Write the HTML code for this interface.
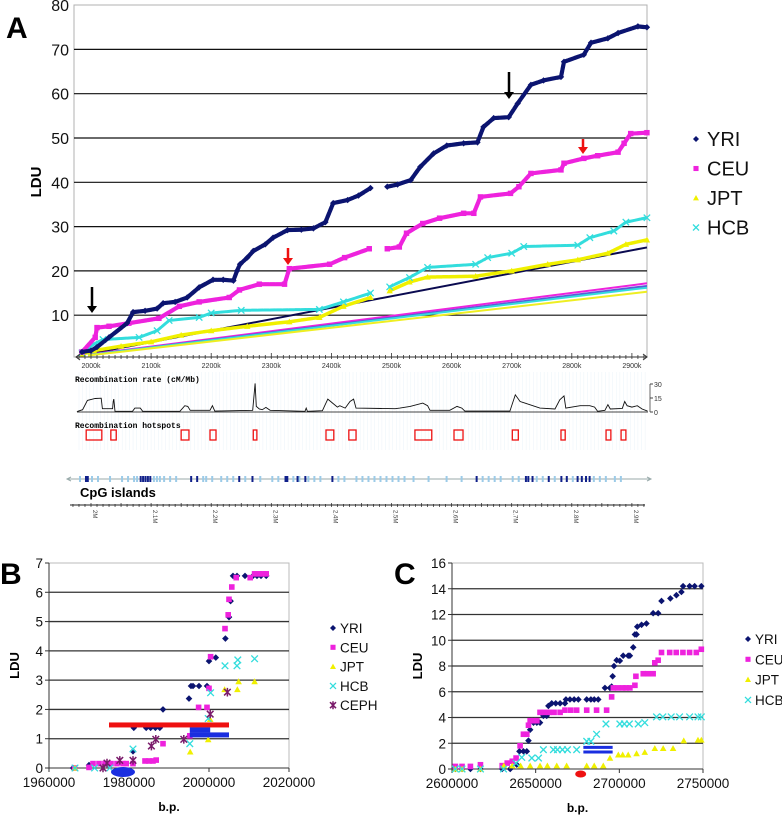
<!DOCTYPE html>
<html><head><meta charset="utf-8"><style>
html,body{margin:0;padding:0;background:#fff}
svg{display:block;font-family:"Liberation Sans",Arial,sans-serif}
.mono{font-family:"Liberation Mono","DejaVu Sans Mono",monospace}
</style></head><body>
<svg id="fig" width="782" height="816" viewBox="0 0 782 816" xmlns="http://www.w3.org/2000/svg">
<rect width="782" height="816" fill="#fff"/>
<g id="gA"></g>
<g id="gR"></g>
<g id="gB"></g>
<g id="gC"></g>
</svg>
<script>
// ---------- Panel A data (kb, LDU) ----------
const aYriX=[1985,2000,2010,2030,2060,2070,2090,2110,2120,2140,2160,2180,2203,2220,2237,2243,2248,2260,2270,2290,2303,2327,2350,2370,2390,2403,2427,2445,2465,null,2493,2510,2532,2548,2570,2592,2620,2643,2653,2670,2695,2710,2732,2753,2782,2787,2820,2832,2860,2877,2910,2925];
const aYriY=[1.7,2,2.8,5,8.2,10.7,11,11.5,12.7,13,14,16.3,18,18,17.8,20,21.5,23,24.5,26,27.5,29.2,29.3,29.6,31,35.3,36,37,38.7,null,39,39.5,40.5,43.5,46.5,48.3,48.8,49,52.5,54.5,54.7,57.8,62,63,63.8,67.2,68.8,71.5,72.5,73.7,75.2,75];
const aCeuX=[1985,2007,2010,2030,2063,2113,2147,2180,2230,2247,2280,2322,2330,2397,2422,2463,null,2493,2513,2525,2552,2580,2620,2637,2648,2698,2712,2732,2782,2787,2820,2843,2877,2887,2898,2925];
const aCeuY=[1.7,5,7.2,7.5,8.2,9.3,12,13,14,15.7,17,17,20.5,21.5,23,25,null,25,25.4,28.5,30.7,31.9,33,33,36.7,37.5,39,42,42.8,44.3,45.4,46,46.8,48.8,51,51.2];
const aHcbX=[1985,2005,2020,2080,2110,2130,2180,2200,2250,2380,2420,2465,null,2497,2530,2560,2640,2660,2700,2720,2810,2830,2870,2890,2925];
const aHcbY=[1.5,3.5,4.5,5,6.5,8.8,9.5,10.5,11.1,11.3,13,15,null,16.4,18.5,20.8,21.5,23,24,25.5,25.8,27.5,29,31,32];
const aJptX=[1985,2005,2050,2100,2150,2200,2260,2330,2380,2420,2465,null,2497,2530,2560,2640,2700,2760,2810,2860,2890,2925];
const aJptY=[1.2,2,3,4,5.5,6.5,7.5,8.5,9.5,12,14,null,15.5,17.5,18.6,18.8,20,21.5,22.5,24,26,27];
const aRegNames=['black','magenta','blue','cyan','yellow'];
const aRegStart=[1.2,1.1,1.0,1.0,0.9];
const aRegEnd=[25.3,17.2,16.6,16.2,15.3];
const aYTicks=[10,20,30,40,50,60,70,80];
const aXTicks=[2000,2100,2200,2300,2400,2500,2600,2700,2800,2900];
// recombination rate (kb, cM/Mb)
const rateX=[1978,1986,1994,2007,2017,2019,2036,2037,2038,2040,2069,2073,2082,2086,2148,2156,2161,2165,2198,2202,2206,2269,2273,2275,2280,2285,2291,2298,2356,2358,2360,2385,2394,2402,2410,2414,2423,2431,2437,2441,2506,2514,2531,2552,2560,2564,2597,2609,2617,2622,2697,2706,2714,2722,2747,2772,2780,2787,2790,2814,2830,2838,2843,2855,2860,2864,2884,2888,2892,2900,2909,2917,2926];
const rateY=[0.7,2.5,12.4,14.5,14.8,3.5,3.5,11.3,13.8,0.7,0.7,4.2,4.2,0.7,0.7,6.7,6,1.8,1.8,6.7,1,1.8,30.7,6,3.2,2.5,4.9,1.8,0.7,4.2,0.7,1.4,13.8,9.5,5.3,6.7,4.2,11.3,13.8,4.2,3.5,4.2,6,9.5,6.7,1.8,1.8,6,4.2,1,1,18.4,11.3,9.5,4.2,3.2,13.1,17.3,4.2,6.7,6.7,5.3,0.7,1.8,7.8,3.2,3.9,11.3,6.7,5.3,6.7,3.2,1];
const hotStart=[1992,2033,2150,2198,2270,2391,2429,2539,2604,2701,2782,2857,2882];
const hotEnd=[2018,2042,2163,2208,2276,2404,2441,2567,2619,2711,2789,2865,2890];
const cpgDark=[1990,1993,2081,2085,2089,2093,2097,2165,2175,2245,2267,2322,2325,2342,2355,2400,2640,2722,2726,2733,2760,2781,2790,2808,2815,2822,2828];
const cpgLight=[1980,2000,2010,2030,2050,2060,2070,2075,2103,2108,2113,2120,2130,2140,2185,2190,2200,2215,2225,2235,2255,2280,2300,2310,2335,2345,2360,2370,2380,2410,2420,2440,2450,2460,2470,2480,2490,2500,2510,2520,2535,2560,2590,2615,2650,2660,2670,2680,2700,2710,2740,2750,2770,2800,2835,2845,2855,2870,2880];
const rulerLabels=['2M','2.1M','2.2M','2.3M','2.4M','2.5M','2.6M','2.7M','2.8M','2.9M'];
// ---------- Panel B data ----------
const bYriX=[1966000,1970000,1981000,1981200,1984300,1985400,1986600,1987700,1988500,1995000,1995500,1996000,1997500,1999500,2000000,2001700,2004100,2005000,2005400,2006000,2007000,2009000,2011000,2012000,2013000,2014300];
const bYriY=[0,0.1,0.57,1.37,1.37,1.37,1.37,1.37,2.0,2.37,2.8,2.8,2.8,2.8,3.65,3.77,4.42,5.15,5.7,6.56,6.56,6.56,6.56,6.56,6.56,6.56];
const bCeuX=[1966400,1970000,1971000,1972500,1974000,1975500,1977000,1978500,1979300,1981000,1984000,1985000,1986000,1986800,1988500,1995200,1997400,1999500,2000000,2000400,2004000,2004800,2005000,2005700,2006800,2010300,2011400,2012600,2013500,2014300];
const bCeuY=[0,0.02,0.15,0.15,0.15,0.15,0.15,0.15,0.15,0.15,0.24,0.24,0.24,0.27,0.83,1.1,2.07,2.07,2.72,3.8,4.76,5.23,5.76,6.18,6.5,6.5,6.63,6.63,6.63,6.63];
const bJptX=[1966500,1995300,1999800,2000300,2003900,2007100,2007400,2011400];
const bJptY=[0,0.55,0.97,1.66,2.68,2.68,2.95,2.95];
const bHcbX=[1966500,1971400,1975200,1981000,1995200,1999800,2000400,2004000,2007000,2007200,2011400];
const bHcbY=[0,0,0,0.65,0.83,1.69,2.57,3.49,3.49,3.69,3.73];
const bCephX=[1973500,1974500,1977700,1981000,1985600,1986700,1993700,2000300,2004600];
const bCephY=[0,0.17,0.26,0.26,0.75,0.98,0.98,1.84,2.59];
const bBarStart=[1975000,1995200,1995200];
const bBarEnd=[2005000,2000300,2005000];
const bBarY=[1.47,1.3,1.13];
const bBarColor=['#ee1111','#1a2ee0','#1a2ee0'];
const bXTicks=[1960000,1980000,2000000,2020000];
const bYTicks=[0,1,2,3,4,5,6,7];
// ---------- Panel C data ----------
const cYriX=[2602000,2606000,2611000,2617000,2630000,2634800,2638700,2640300,2642700,2644700,2645700,2646700,2648700,2650700,2652600,2654600,2656600,2657600,2659600,2662000,2664600,2667500,2668100,2670500,2673000,2675500,2680500,2683000,2685000,2687400,2691400,2694400,2695400,2696000,2696800,2698400,2700300,2702300,2705300,2706300,2708300,2709300,2710300,2710700,2713300,2716200,2720200,2723200,2725200,2730500,2734100,2737100,2738100,2742000,2745000,2749000];
const cYriY=[0,0,0,0,0,0,0.34,1.37,1.37,1.37,2.2,3.05,3.6,3.6,3.6,4.13,4.13,4.9,5.1,5.1,5.1,5.1,5.4,5.4,5.4,5.4,5.4,5.4,5.4,5.4,6.3,6.3,6.4,7.2,8.0,8.45,8.4,8.8,8.8,8.8,9.45,10.45,10.45,11.05,11.2,11.3,12.1,12.1,13.05,13.25,13.5,13.75,14.2,14.2,14.2,14.2];
const cCeuX=[2602000,2606000,2611000,2617000,2630000,2633000,2636000,2638300,2640700,2642700,2644700,2645700,2646700,2648700,2650700,2652600,2655000,2658000,2661000,2664600,2667500,2671000,2674500,2680500,2686400,2692400,2695400,2696400,2699000,2702000,2704000,2706300,2709300,2709900,2714300,2717000,2720200,2721200,2723200,2725200,2730100,2734000,2738000,2742000,2746000,2749000];
const cCeuY=[0.2,0.2,0.2,0.33,0.26,0.46,0.6,0.85,1.8,2.7,2.7,3.4,3.75,3.75,3.75,4.4,4.4,4.4,4.4,4.4,4.57,4.57,4.57,4.57,4.57,4.57,5.6,6.3,6.3,6.3,6.3,6.3,6.5,7.2,7.4,7.4,7.4,8.25,8.45,9.05,9.05,9.05,9.05,9.05,9.05,9.3];
const cJptX=[2602000,2606000,2617000,2631000,2636000,2641000,2646700,2652600,2657000,2662600,2668500,2680500,2685000,2690400,2694400,2699400,2702000,2705300,2710300,2715200,2721200,2726200,2732100,2738500,2747000,2749000];
const cJptY=[0,0,0,0.25,0.25,0.25,0.25,0.25,0.25,0.25,0.25,0.25,0.25,0.25,0.85,1.1,1.1,1.1,1.2,1.3,1.6,1.6,1.6,2.2,2.25,2.25];
const cHcbX=[2602000,2606000,2617000,2630800,2638300,2641700,2647700,2651700,2654600,2660600,2663000,2666000,2669000,2674500,2680500,2683000,2686400,2692000,2700300,2703000,2706000,2711300,2715200,2722200,2726000,2731000,2736000,2742000,2747000,2749000];
const cHcbY=[0,0,0,0,0.45,0.9,0.85,0.85,1.5,1.5,1.5,1.5,1.5,1.5,2.15,2.15,2.7,3.5,3.5,3.5,3.5,3.5,3.6,4.05,4.05,4.05,4.05,4.05,4.05,4.05];
const cBarStart=[2678500,2678500];
const cBarEnd=[2696000,2696000];
const cBarY=[1.68,1.32];
const cXTicks=[2600000,2650000,2700000,2750000];
const cYTicks=[0,2,4,6,8,10,12,14,16];

const NS='http://www.w3.org/2000/svg';
function mk(parent,tag,attrs,text){const e=document.createElementNS(NS,tag);for(const k in attrs)e.setAttribute(k,attrs[k]);if(text!==undefined)e.textContent=text;parent.appendChild(e);return e;}
function marker(g,type,x,y,s,c){
  let e;
  if(type==='diamond')e=mk(g,'polygon',{points:`${x},${y-s} ${x+s},${y} ${x},${y+s} ${x-s},${y}`,fill:c});
  else if(type==='square')e=mk(g,'rect',{x:x-s*0.85,y:y-s*0.85,width:s*1.7,height:s*1.7,fill:c});
  else if(type==='tri')e=mk(g,'polygon',{points:`${x},${y-s} ${x+s},${y+s*0.8} ${x-s},${y+s*0.8}`,fill:c});
  else if(type==='cross')e=mk(g,'path',{d:`M${x-s} ${y-s}L${x+s} ${y+s}M${x-s} ${y+s}L${x+s} ${y-s}`,stroke:c,'stroke-width':1.3,fill:'none'});
  else e=mk(g,'path',{d:`M${x-s} ${y-s}L${x+s} ${y+s}M${x-s} ${y+s}L${x+s} ${y-s}M${x} ${y-s-1}L${x} ${y+s+1}`,stroke:c,'stroke-width':1.5,fill:'none'});
  return e;
}

// ================= PANEL A =================
const gA=document.getElementById('gA');
const xA=kb=>91+(kb-2000)*0.601;
const yA=v=>359.5-v*4.43;
{
  let t=mk(gA,'text',{x:6,y:38,'font-size':30,'font-weight':'bold'},'A');
  
  
  mk(gA,'rect',{x:74,y:5,width:573,height:352,fill:'none',stroke:'#b0b0b0','stroke-width':1});
  aYTicks.forEach(v=>{
    if(v<80){const l=mk(gA,'line',{x1:74,x2:647,y1:yA(v),y2:yA(v),stroke:'#111','stroke-width':1.2});
    
    }
    const tt=mk(gA,'text',{x:69,y:yA(v)+6,'text-anchor':'end','font-size':16,fill:'#111'},String(v));
    
    
  });
  const yt=mk(gA,'text',{x:0,y:0,transform:'translate(41,182) rotate(-90)','text-anchor':'middle','font-size':15,'font-weight':'bold'},'LDU');
  
  
  const regCols=['#0a0a50','#ee22dd','#5a5ad8','#33dddd','#eeee22'];
  aRegNames.forEach((n,i)=>{
    const l=mk(gA,'line',{x1:xA(1995),y1:yA(aRegStart[i]),x2:xA(2925),y2:yA(aRegEnd[i]),stroke:regCols[i],'stroke-width':2});
    
    
  });
  function series(xs,ys,col,type,name,w){
    const g=mk(gA,'g',{});
    
    
    let d='';let pen=false;
    xs.forEach((x,i)=>{ if(x===null){pen=false;return;} d+=(pen?'L':'M')+xA(x).toFixed(1)+' '+yA(ys[i]).toFixed(1); pen=true; });
    mk(g,'path',{d:d,stroke:col,'stroke-width':w,fill:'none','stroke-linejoin':'round','stroke-linecap':'round','stroke-dasharray':'5 1.2'});
    xs.forEach((x,i)=>{ if(x===null)return; marker(g,type,xA(x),yA(ys[i]),3.2,col); });
  }
  series(aJptX,aJptY,'#f0f000','tri','jpt',3.5);
  series(aHcbX,aHcbY,'#33dddd','cross',"hcb",3);
  series(aCeuX,aCeuY,'#ee22dd','square','ceu',4.2);
  series(aYriX,aYriY,'#0b1470','diamond','yri',4.2);
  function arrow(x,y1,y2,col,name){const g=mk(gA,'g',{});
    
    
    mk(g,'line',{x1:x,y1:y1,x2:x,y2:y2-5,stroke:col,'stroke-width':2.5});
    mk(g,'polygon',{points:`${x-5},${y2-7} ${x+5},${y2-7} ${x},${y2}`,fill:col});}
  arrow(92,287,313,'#000','arrow-black-1');
  arrow(509,72,99,'#000','arrow-black-2');
  arrow(288,248,265,'#ee1111','arrow-red-1');
  arrow(583,139,154,'#ee1111','arrow-red-2');
  const leg=[['YRI','#0b1470','diamond'],['CEU','#ee22dd','square'],['JPT','#f0f000','tri'],['HCB','#33dddd','cross']];
  leg.forEach((L,i)=>{const g=mk(gA,'g',{});
    
    
    const y=139+i*29.5;
    marker(g,L[2],696,y,3,L[1]);
    mk(g,'text',{x:707,y:y+7,'font-size':20,fill:'#111'},L[0]);});
  mk(gA,'line',{x1:76,x2:647,y1:357,y2:357,stroke:'#333','stroke-width':1});
  mk(gA,'path',{d:'M80 354L76 357L80 360M643 354L647 357L643 360',stroke:'#333',fill:'none'});
  for(let k=1980;k<=2920;k+=10){mk(gA,'line',{x1:xA(k),x2:xA(k),y1:k%100===0?353:355,y2:359,stroke:'#333','stroke-width':0.8});}
  aXTicks.forEach(k=>{const t=mk(gA,'text',{x:xA(k),y:368,'text-anchor':'middle','font-size':7,fill:'#333'},k+'k');
    
    });
}

// ================= RECOMBINATION TRACKS =================
const gR=document.getElementById('gR');
{
  for(let k=1980;k<=2925;k+=6){mk(gR,'line',{x1:xA(k),x2:xA(k),y1:372,y2:450,stroke:'#eef5fa','stroke-width':0.6});}
  let t=mk(gR,'text',{x:75,y:382,'font-size':8,'font-weight':'bold',class:'mono'},'Recombination rate (cM/Mb)');
  
  
  const yR=v=>412-v*0.933;
  mk(gR,'line',{x1:77,x2:648,y1:412,y2:412,stroke:'#444','stroke-width':1});
  mk(gR,'line',{x1:650,x2:650,y1:384,y2:412,stroke:'#444','stroke-width':0.8});
  [[30,'30'],[15,'15'],[0,'0']].forEach(p=>{mk(gR,'line',{x1:650,x2:653,y1:yR(p[0]),y2:yR(p[0]),stroke:'#444'});mk(gR,'text',{x:654,y:yR(p[0])+3,'font-size':7,fill:'#333'},p[1]);});
  let d='M77 412';rateX.forEach((k,i)=>{d+='L'+xA(k).toFixed(1)+' '+yR(rateY[i]).toFixed(1);});
  const rp=mk(gR,'path',{d:d,stroke:'#111','stroke-width':0.9,fill:'none'});
  
  
  t=mk(gR,'text',{x:75,y:428,'font-size':8,'font-weight':'bold',class:'mono'},'Recombination hotspots');
  
  
  hotStart.forEach((s,i)=>{const r=mk(gR,'rect',{x:xA(s),y:430,width:xA(hotEnd[i])-xA(s),height:10,fill:'none',stroke:'#ee1111','stroke-width':1.3});
    
    });
  mk(gR,'line',{x1:68,x2:650,y1:479,y2:479,stroke:'#9aa','stroke-width':1});
  mk(gR,'path',{d:'M71 477L67 479L71 481M647 477L651 479L647 481',stroke:'#9aa',fill:'none'});
  cpgLight.forEach(k=>{mk(gR,'rect',{x:xA(k),y:476,width:2,height:6,fill:'#9ccbe8'});});
  cpgDark.forEach(k=>{mk(gR,'rect',{x:xA(k),y:476,width:2,height:6,fill:'#10208a'});});
  t=mk(gR,'text',{x:80,y:497,'font-size':13,'font-weight':'bold'},'CpG islands');
  
  
  mk(gR,'line',{x1:70,x2:645,y1:505,y2:505,stroke:'#222','stroke-width':1});
  for(let k=1970;k<=2920;k+=10){mk(gR,'line',{x1:xA(k),x2:xA(k),y1:k%50===0?503:504,y2:507,stroke:'#222','stroke-width':0.7});}
  rulerLabels.forEach((l,i)=>{const x=xA(2000+i*100)+2;mk(gR,'text',{x:0,y:0,transform:`translate(${x},510) rotate(90)`,'font-size':6,fill:'#444'},l);});
}

// ================= generic small chart =================
function smallChart(g,cfg){
  const xs=v=>cfg.x0+(v-cfg.xmin)/(cfg.xmax-cfg.xmin)*(cfg.x1-cfg.x0);
  const ys=v=>cfg.y0-(v-cfg.ymin)/(cfg.ymax-cfg.ymin)*(cfg.y0-cfg.y1);
  let t=mk(g,'text',{x:cfg.lx,y:cfg.ly,'font-size':30,'font-weight':'bold'},cfg.letter);
  
  
  mk(g,'rect',{x:cfg.x0,y:cfg.y1,width:cfg.x1-cfg.x0,height:cfg.y0-cfg.y1,fill:'none',stroke:'#bbb'});
  cfg.yTicks.forEach(v=>{
    if(v!==cfg.ymin&&v!==cfg.ymax){const l=mk(g,'line',{x1:cfg.x0,x2:cfg.x1,y1:ys(v),y2:ys(v),stroke:'#333','stroke-width':1.3});
      
      }
    mk(g,'line',{x1:cfg.x0-4,x2:cfg.x0,y1:ys(v),y2:ys(v),stroke:'#333'});
    const tt=mk(g,'text',{x:cfg.x0-6,y:ys(v)+5,'text-anchor':'end','font-size':13.5,fill:'#111'},String(v));
    
    
  });
  mk(g,'line',{x1:cfg.x0,x2:cfg.x0,y1:cfg.y1,y2:cfg.y0,stroke:'#333'});
  mk(g,'line',{x1:cfg.x0,x2:cfg.x1,y1:cfg.y0,y2:cfg.y0,stroke:'#333'});
  cfg.xTicks.forEach(v=>{mk(g,'line',{x1:xs(v),x2:xs(v),y1:cfg.y0,y2:cfg.y0+4,stroke:'#333'});
    const tt=mk(g,'text',{x:xs(v),y:cfg.y0+19,'text-anchor':'middle','font-size':13.5,fill:'#111'},String(v));
    
    });
  t=mk(g,'text',{x:(cfg.x0+cfg.x1)/2,y:cfg.y0+43,'text-anchor':'middle','font-size':12,'font-weight':'bold'},'b.p.');
  
  
  t=mk(g,'text',{x:0,y:0,transform:`translate(${cfg.x0-30},${(cfg.y0+cfg.y1)/2}) rotate(-90)`,'text-anchor':'middle','font-size':13,'font-weight':'bold'},'LDU');
  
  
  cfg.series.forEach(s=>{const sg=mk(g,'g',{});
    
    
    s.x.forEach((v,i)=>marker(sg,s.type,xs(v),ys(s.y[i]),3.3,s.col));});
  cfg.series.forEach((s,i)=>{const lg=mk(g,'g',{});
    
    
    const y=cfg.legY+i*cfg.legDy;
    marker(lg,s.type,cfg.legX,y,3,s.col);
    mk(lg,'text',{x:cfg.legX+7,y:y+5,'font-size':13.5,fill:'#111'},s.name);});
  if(cfg.after)cfg.after(xs,ys);
}

smallChart(document.getElementById('gB'),{letter:'B',lx:0,ly:584,x0:49,x1:289,y0:768,y1:563,xmin:1960000,xmax:2020000,ymin:0,ymax:7,
  xTicks:bXTicks,yTicks:bYTicks,legX:333,legY:628,legDy:19.3,
  after:(xs,ys)=>{
    const gB=document.getElementById('gB');
    bBarStart.forEach((s,i)=>{const r=mk(gB,'rect',{x:xs(s),y:ys(bBarY[i])-2.5,width:xs(bBarEnd[i])-xs(s),height:5,fill:bBarColor[i]});
      
      });
    const e=mk(gB,'ellipse',{cx:xs(1978500),cy:772,rx:12,ry:5,fill:'#1a2ee0'});
    
    
  },
  series:[{name:'YRI',x:bYriX,y:bYriY,col:'#0b1470',type:'diamond'},{name:'CEU',x:bCeuX,y:bCeuY,col:'#ee22dd',type:'square'},{name:'JPT',x:bJptX,y:bJptY,col:'#f0f000',type:'tri'},{name:'HCB',x:bHcbX,y:bHcbY,col:'#33dddd',type:'cross'},{name:'CEPH',x:bCephX,y:bCephY,col:'#7a1a6a',type:'star'}]});

smallChart(document.getElementById('gC'),{letter:'C',lx:394,ly:584,x0:452,x1:703,y0:769,y1:563,xmin:2600000,xmax:2750000,ymin:0,ymax:16,
  xTicks:cXTicks,yTicks:cYTicks,legX:748,legY:639,legDy:20.3,
  after:(xs,ys)=>{
    const gC=document.getElementById('gC');
    cBarStart.forEach((s,i)=>{const r=mk(gC,'rect',{x:xs(s),y:ys(cBarY[i])-1.5,width:xs(cBarEnd[i])-xs(s),height:3,fill:'#1a2ee0'});
      
      });
    const e=mk(gC,'ellipse',{cx:xs(2676900),cy:774,rx:5.5,ry:3.5,fill:'#ee1111'});
    
    
  },
  series:[{name:'YRI',x:cYriX,y:cYriY,col:'#0b1470',type:'diamond'},{name:'CEU',x:cCeuX,y:cCeuY,col:'#ee22dd',type:'square'},{name:'JPT',x:cJptX,y:cJptY,col:'#f0f000',type:'tri'},{name:'HCB',x:cHcbX,y:cHcbY,col:'#33dddd',type:'cross'}]});
</script>
</body></html>
